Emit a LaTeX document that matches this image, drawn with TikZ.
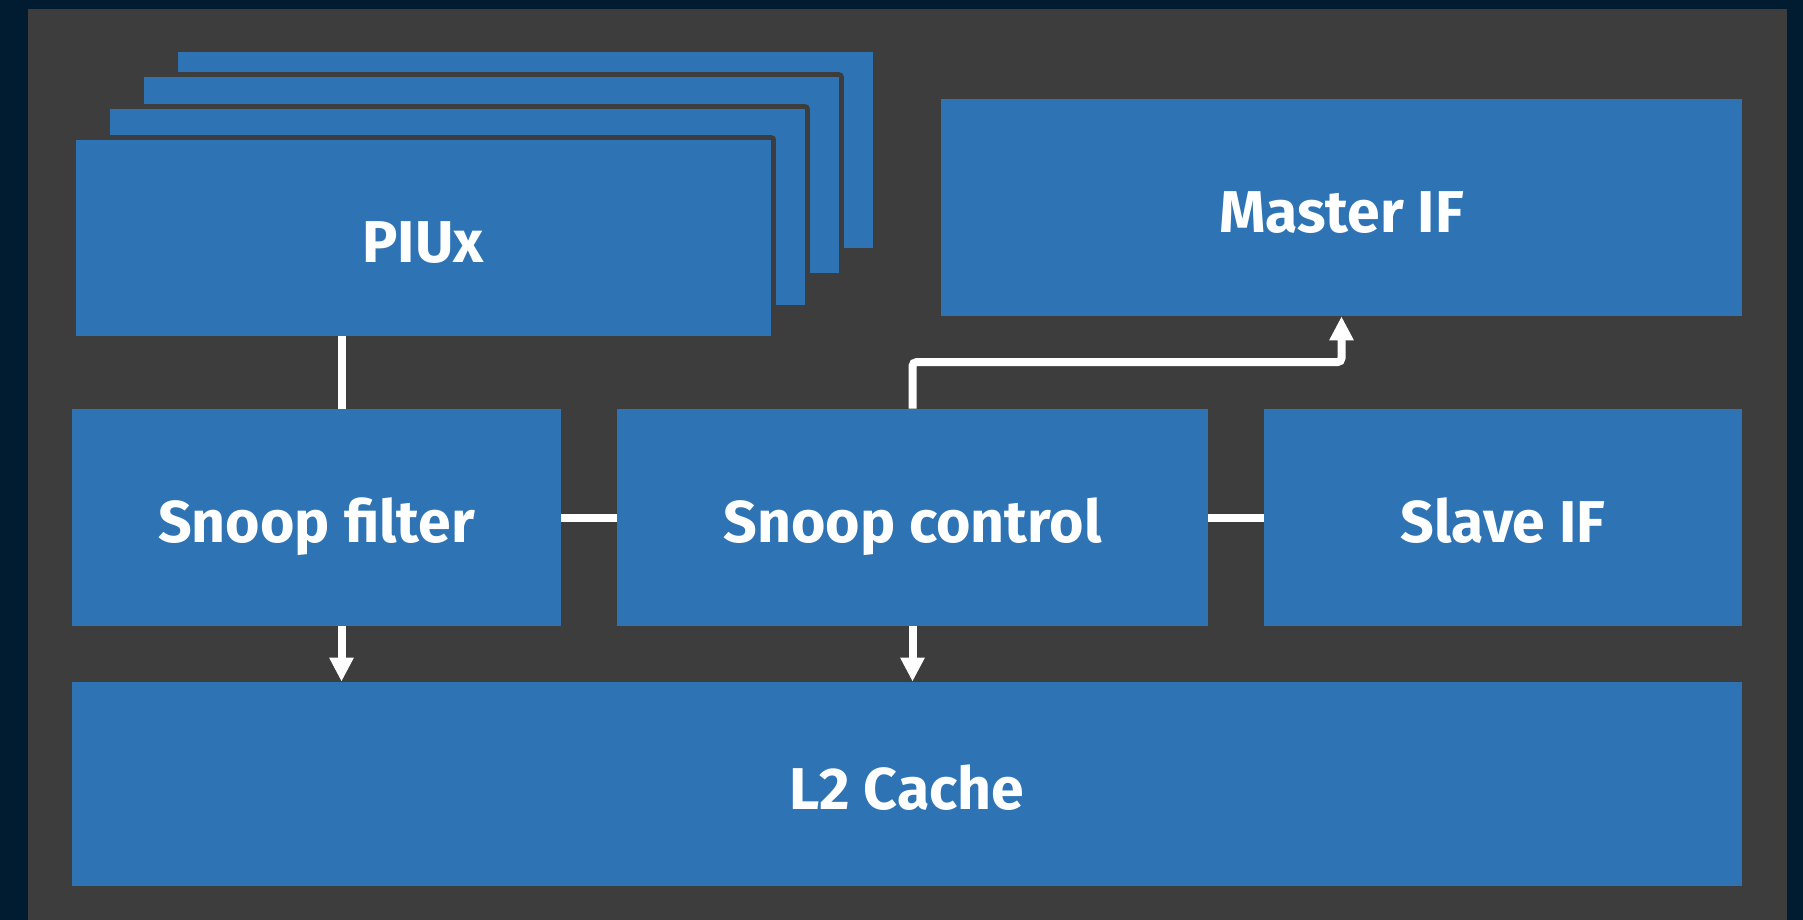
\documentclass[tikz,border=0pt]{standalone}
\usepackage{fontspec}
\setmainfont{Fira Sans}
\usepackage{xcolor}
\usepackage{tikz}
\usetikzlibrary{arrows.meta, positioning, calc}

\definecolor{navybg}{RGB}{1,27,49}
\definecolor{panelgray}{RGB}{61,61,61}
\definecolor{blockblue}{RGB}{46,116,181}

\begin{document}
\begin{tikzpicture}[
  x=0.5pt, y=-0.5pt,
  >={Triangle[width=11.5pt, length=12pt]},
  block/.style={
    rectangle, fill=blockblue, inner sep=0pt,
    text height=25.3pt, text depth=0pt,
    text=white, font=\fontsize{29.5}{35}\selectfont\bfseries
  },
  layer/.style={
    block, minimum width=347.5pt, minimum height=98pt,
    preaction={draw=panelgray, line width=5pt, line join=round}
  },
  wire/.style={draw=white, line width=4pt},
  arr/.style={wire, ->},
]

%%% Background and panel
\fill[navybg] (0,0) rectangle (1803,920);
\fill[panelgray] (28,9) rectangle (1787,920);

%%% PIU stack, back to front
\node[layer] (piu4) at (525.5,150)   {};
\node[layer] (piu3) at (491.5,175)   {};
\node[layer] (piu2) at (457.5,207)   {};
\node[layer] (piu)  at (423,237.5)   {PIUx};

%%% Interface and control blocks
\node[block, minimum width=400.5pt, minimum height=108.5pt]
  (master) at (1341.5,207.5) {Master IF};
\node[block, minimum width=244.5pt, minimum height=108.5pt]
  (sfilter) at (316.5,517.5) {Snoop filter};
\node[block, minimum width=295.5pt, minimum height=108.5pt]
  (sctrl) at (912.5,517.5) {Snoop control};
\node[block, minimum width=239pt, minimum height=108.5pt]
  (slave) at (1503,517.5) {Slave IF};

%%% Cache
\node[block, minimum width=835pt, minimum height=102pt]
  (l2) at (907,784) {L2 Cache};

%%% Connections
\draw[wire] ([xshift=12.5pt]sfilter.north) -- ([xshift=12.5pt]sfilter.north |- piu.south);
\draw[wire] (sfilter) -- (sctrl);
\draw[wire] (sctrl) -- (slave);
\draw[arr] ([xshift=12.5pt]sfilter.south) -- ([xshift=12.5pt]sfilter.south |- l2.north);
\draw[arr] (sctrl.south) -- (sctrl.south |- l2.north);
\draw[arr, rounded corners=2pt] (sctrl.north) -- ++(0,-46.5) -| (master.south);

\end{tikzpicture}
\end{document}
